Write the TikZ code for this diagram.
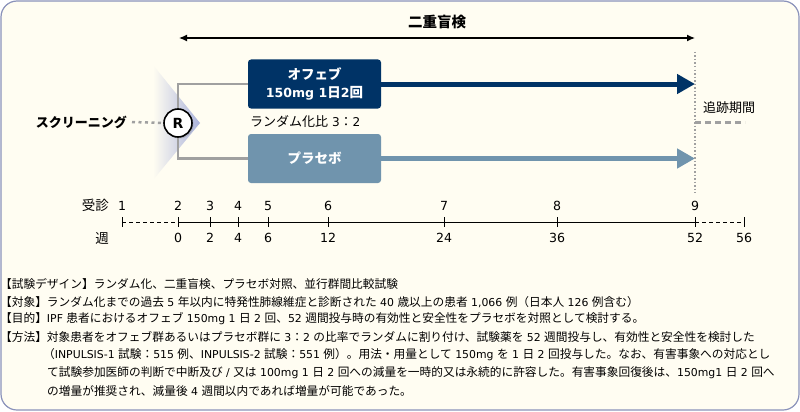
\documentclass[tikz,border=0pt]{standalone}
\usepackage{fontspec}
\setmainfont[Scale=0.93]{DejaVu Sans}
\newfontfamily\jpfont{Noto Sans CJK JP}
\newfontfamily\latfont[Scale=0.93]{DejaVu Sans}
% Japanese characters switch to the CJK font, the rest stays in DejaVu
\XeTeXinterchartokenstate=1
\newXeTeXintercharclass\jpclass
\count255="3000
\loop\XeTeXcharclass\count255=\jpclass\ifnum\count255<"9FFF\advance\count255 by 1\repeat
\count255="FF00
\loop\XeTeXcharclass\count255=\jpclass\ifnum\count255<"FFEF\advance\count255 by 1\repeat
\XeTeXinterchartoks 0 \jpclass={\jpfont}
\XeTeXinterchartoks 4095 \jpclass={\jpfont}
\XeTeXinterchartoks \jpclass 0={\latfont}
\XeTeXinterchartoks \jpclass 4095={\latfont}
\usetikzlibrary{arrows.meta,shadows}

\definecolor{ofv}{RGB}{0, 51, 102}
\definecolor{plc}{RGB}{112, 148, 173}
\definecolor{brd}{RGB}{138, 146, 186}
\definecolor{bg}{RGB}{255, 253, 242}
\definecolor{gry}{RGB}{160, 160, 160}
\definecolor{tri}{RGB}{170, 178, 218}

\begin{document}
\begin{tikzpicture}[x=1pt, y=-1pt,
  box/.style={rounded corners=3pt, minimum width=133pt, minimum height=49pt,
    text=white, align=center, font=\fontsize{13.5}{18}\selectfont\bfseries},
  lbl/.style={inner sep=0pt, font=\fontsize{13}{15}\selectfont},
  tk/.style={inner sep=0pt, font=\fontsize{13.5}{15}\selectfont},
  txt/.style={anchor=west, inner sep=0pt, font=\fontsize{11.7}{13}\selectfont}]
  \useasboundingbox (0,0) rectangle (800,412);
  \draw[brd, fill=bg, line width=1.2pt, rounded corners=16pt] (1,1) rectangle (799,410);

  % double blind span
  \coordinate (DB1) at (179,38);
  \coordinate (DB2) at (695,38);
  \draw[line width=1.3pt, {Latex[length=8pt,width=7pt]}-{Latex[length=8pt,width=7pt]}] (DB1) -- (DB2);
  \node[lbl, font=\fontsize{14.5}{16}\selectfont\bfseries] (dbl) at (437,22) {二重盲検};

  % randomisation
  \shade[left color=bg, right color=tri] (153,65) -- (200,123) -- (153,180) -- cycle;
  \node[lbl, anchor=east, font=\fontsize{13}{15}\selectfont\bfseries] (scr) at (127,122) {スクリーニング};
  \node[circle, draw, line width=1.6pt, fill=white, minimum size=28pt, inner sep=0pt,
    drop shadow={shadow xshift=1.5pt, shadow yshift=-1.5pt, opacity=.35},
    font=\fontsize{15}{16}\selectfont\bfseries] (R) at (178,123) {R};
  \draw[gry, line width=2.5pt, dash pattern=on 3pt off 3.5pt] (132,122) -- (R.west);

  \node[box, fill=ofv] (ofev) at (314.5,84) {オフェブ\\150mg 1日2回};
  \node[box, fill=plc] (plc) at (314.5,158.5) {プラセボ};
  \draw[gry, line width=2.5pt] (R.north) |- (ofev.west);
  \draw[gry, line width=2.5pt] (R.south) |- (plc.west);
  \node[lbl, anchor=west] (ratio) at (250,122) {ランダム化比 3：2};

  \coordinate (E1) at (695,84);
  \coordinate (E2) at (695,158.5);
  \draw[ofv, line width=5pt, -{Triangle[length=18pt,width=19pt]}] (ofev.east) -- (E1);
  \draw[plc, line width=5pt, -{Triangle[length=18pt,width=19pt]}] (plc.east) -- (E2);

  % follow-up
  \coordinate (F1) at (695,52);
  \coordinate (F2) at (695,193);
  \coordinate (F3) at (745,122);
  \draw[gry, line width=1.2pt, dash pattern=on 1.5pt off 2pt] (F1) -- (F2);
  \draw[gry, line width=3pt, dash pattern=on 6pt off 4pt] (695,122) -- (F3);
  \node[lbl, anchor=west] (fu) at (703,108) {追跡期間};

  % timeline
  \coordinate (T1) at (122,222);
  \coordinate (T2) at (178,222);
  \coordinate (T9) at (695,222);
  \coordinate (T10) at (744,222);
  \draw[line width=0.8pt, dash pattern=on 4pt off 3pt] (T1) -- (T2);
  \draw[line width=1pt] (T2) -- (T9);
  \draw[line width=0.8pt, dash pattern=on 4pt off 3pt] (T9) -- (T10);
  \foreach \x in {122,178,210,238,268,328,444,557,695,744}
    \draw[line width=0.8pt] (\x,217) -- (\x,227);
  \node[tk, anchor=east] (visit) at (109,205) {受診};
  \node[tk, anchor=east] (week) at (109,238) {週};
  \foreach \x/\v in {122/1,178/2,210/3,238/4,268/5,328/6,444/7,557/8,695/9}
    \node[tk] (v\v) at (\x,206) {\v};
  \foreach \x/\w in {178/0,210/2,238/4,268/6,328/12,444/24,557/36,695/52,744/56}
    \node[tk] (w\w) at (\x,238) {\w};

  % study outline
  \node[txt] (l1) at (0,284) {【試験デザイン】ランダム化、二重盲検、プラセボ対照、並行群間比較試験};
  \node[txt] (l2) at (0,302) {【対象】ランダム化までの過去 5 年以内に特発性肺線維症と診断された 40 歳以上の患者 1,066 例（日本人 126 例含む）};
  \node[txt] (l3) at (0,319) {【目的】IPF 患者におけるオフェブ 150mg 1 日 2 回、52 週間投与時の有効性と安全性をプラセボを対照として検討する。};
  \node[txt] (l4) at (0,337) {【方法】対象患者をオフェブ群あるいはプラセボ群に 3：2 の比率でランダムに割り付け、試験薬を 52 週間投与し、有効性と安全性を検討した};
  \node[txt] (l5) at (43,355) {（INPULSIS-1 試験：515 例、INPULSIS-2 試験：551 例）。用法・用量として 150mg を 1 日 2 回投与した。なお、有害事象への対応とし};
  \node[txt] (l6) at (47,373) {て試験参加医師の判断で中断及び / 又は 100mg 1 日 2 回への減量を一時的又は永続的に許容した。有害事象回復後は、150mg1 日 2 回へ};
  \node[txt] (l7) at (47,391) {の増量が推奨され、減量後 4 週間以内であれば増量が可能であった。};
\end{tikzpicture}
\end{document}
